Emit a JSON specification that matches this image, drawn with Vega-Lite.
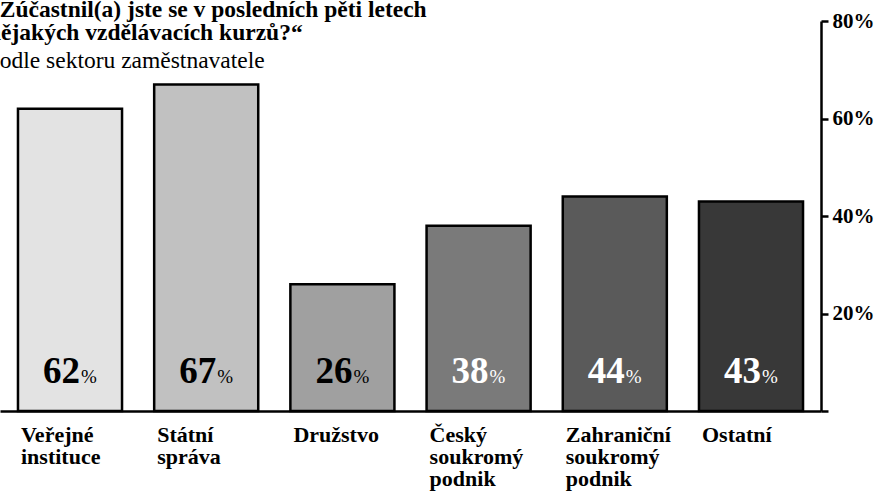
{
  "$schema": "https://vega.github.io/schema/vega-lite/v6.json",
  "autosize": {"type": "none"},
  "padding": {"left": 0, "top": 21, "right": 58, "bottom": 80},
  "width": 821,
  "height": 390,
  "background": "white",
  "title": {
    "text": ["„Zúčastnil(a) jste se v posledních pěti letech", "nějakých vzdělávacích kurzů?“"],
    "subtitle": "podle sektoru zaměstnavatele",
    "anchor": "start",
    "frame": "group",
    "orient": "top",
    "offset": -62,
    "dx": -12,
    "font": "Liberation Serif",
    "fontSize": 23.5,
    "fontWeight": "bold",
    "lineHeight": 23.5,
    "color": "black",
    "subtitleFont": "Liberation Serif",
    "subtitleFontSize": 23.5,
    "subtitleFontWeight": "normal",
    "subtitleColor": "black",
    "subtitlePadding": 4
  },
  "config": {"view": {"stroke": null}},
  "data": {
    "values": [
      {"sector": "Veřejné instituce", "value": 62},
      {"sector": "Státní správa", "value": 67},
      {"sector": "Družstvo", "value": 26},
      {"sector": "Český soukromý podnik", "value": 38},
      {"sector": "Zahraniční soukromý podnik", "value": 44},
      {"sector": "Ostatní", "value": 43}
    ]
  },
  "encoding": {
    "x": {
      "field": "sector",
      "type": "nominal",
      "sort": null,
      "scale": {"paddingInner": 0.236, "paddingOuter": 0.132},
      "axis": {
        "title": null,
        "labelAngle": 0,
        "labelAlign": "left",
        "labelBaseline": "top",
        "labelOffset": -49,
        "labelPadding": 13,
        "labelFont": "Liberation Serif",
        "labelFontSize": 22,
        "labelFontWeight": "bold",
        "labelColor": "black",
        "labelLineHeight": 22,
        "labelExpr": "split(datum.label, ' ')",
        "ticks": false,
        "domainColor": "black",
        "domainWidth": 2.5
      }
    }
  },
  "layer": [
    {
      "mark": {"type": "bar", "stroke": "black", "strokeWidth": 2.5},
      "encoding": {
        "y": {
          "field": "value",
          "type": "quantitative",
          "scale": {"domain": [0, 80], "nice": false},
          "axis": {
            "orient": "right",
            "title": null,
            "values": [0, 20, 40, 60, 80],
            "labelExpr": "datum.value == 0 ? '' : datum.value + '%'",
            "labelFont": "Liberation Serif",
            "labelFontSize": 21,
            "labelFontWeight": "bold",
            "labelColor": "black",
            "labelPadding": 4,
            "tickColor": "black",
            "tickWidth": 2.5,
            "tickSize": 7,
            "domainColor": "black",
            "domainWidth": 2.5,
            "grid": false
          }
        },
        "fill": {
          "field": "sector",
          "type": "nominal",
          "sort": null,
          "legend": null,
          "scale": {"range": ["#e3e3e3", "#c1c1c1", "#a0a0a0", "#7a7a7a", "#5a5a5a", "#383838"]}
        }
      }
    },
    {
      "mark": {"type": "text", "align": "right", "baseline": "alphabetic", "dx": 10, "dy": -28, "font": "Liberation Serif", "fontSize": 37, "fontWeight": "bold"},
      "encoding": {
        "y": {"datum": 0, "type": "quantitative"},
        "text": {"field": "value", "type": "quantitative"},
        "color": {
          "condition": {"test": "indexof(['Český soukromý podnik','Zahraniční soukromý podnik','Ostatní'], datum.sector) >= 0", "value": "white"},
          "value": "black"
        }
      }
    },
    {
      "mark": {"type": "text", "align": "left", "baseline": "alphabetic", "dx": 11, "dy": -28, "font": "Liberation Serif", "fontSize": 19, "text": "%"},
      "encoding": {
        "y": {"datum": 0, "type": "quantitative"},
        "color": {
          "condition": {"test": "indexof(['Český soukromý podnik','Zahraniční soukromý podnik','Ostatní'], datum.sector) >= 0", "value": "white"},
          "value": "black"
        }
      }
    }
  ]
}
